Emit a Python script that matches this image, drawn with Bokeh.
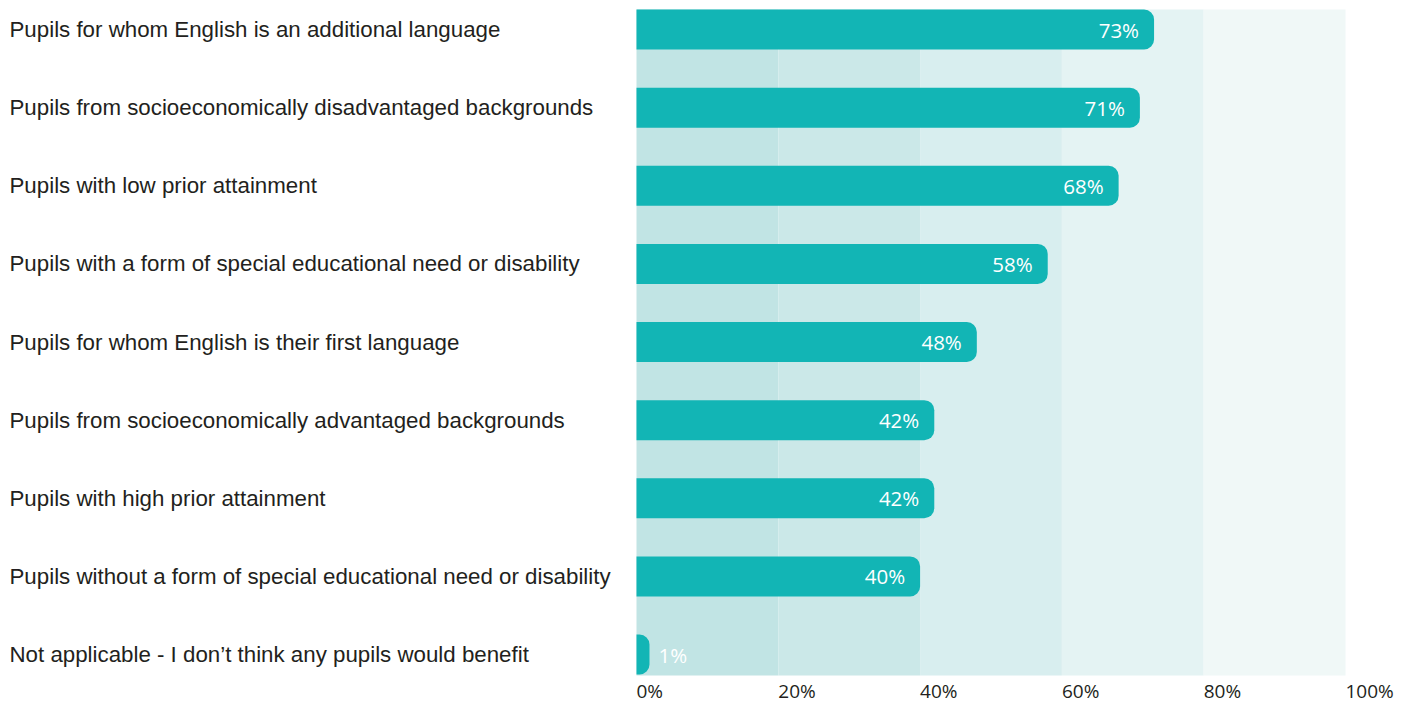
from bokeh.plotting import figure
from bokeh.models import ColumnDataSource, Range1d
from bokeh.embed import file_html
from bokeh.resources import INLINE
from bokeh.core.properties import value
import numpy as np

categories = [
    "Pupils for whom English is an additional language",
    "Pupils from socioeconomically disadvantaged backgrounds",
    "Pupils with low prior attainment",
    "Pupils with a form of special educational need or disability",
    "Pupils for whom English is their first language",
    "Pupils from socioeconomically advantaged backgrounds",
    "Pupils with high prior attainment",
    "Pupils without a form of special educational need or disability",
    "Not applicable - I don\u2019t think any pupils would benefit",
]
values = [73, 71, 68, 58, 48, 42, 42, 40, 1]
tick_values = [0, 20, 40, 60, 80, 100]
tick_labels = ["0%", "20%", "40%", "60%", "80%", "100%"]
band_colors = ["#c1e4e4", "#cbe8e8", "#d8eeef", "#e4f3f3", "#f0f8f7"]

BAR_COLOR = "#12b5b5"
W, H = 1414, 704
PX_PER_PCT = 7.09
X0 = 636
ROW = 78.125
ROW0 = 29

x_start = -X0 / PX_PER_PCT
x_end = (W - X0) / PX_PER_PCT
y_end = -ROW0 / ROW
y_start = (H - ROW0) / ROW
band_top = (9 - ROW0) / ROW
band_bottom = (675 - ROW0) / ROW

p = figure(width=W, height=H, x_range=Range1d(x_start, x_end),
           y_range=Range1d(y_start, y_end), output_backend="svg",
           toolbar_location=None, min_border=0,
           x_axis_location=None, y_axis_location=None)
p.grid.visible = False
p.outline_line_color = None
p.background_fill_color = "white"

# background bands
p.quad(left=tick_values[:-1], right=tick_values[1:], top=band_top, bottom=band_bottom,
       fill_color=band_colors, line_color=None)

idx = list(range(len(categories)))
min_w = 13 / PX_PER_PCT
bar_right = np.maximum(np.array(values, dtype=float), min_w)
src = ColumnDataSource(dict(y=idx, right=bar_right, v=values,
                            lab=[f"{v}%" for v in values], cat=categories))
p.hbar(y="y", left=0, right="right", height=40 / ROW, source=src,
       fill_color=BAR_COLOR, line_color=None, border_radius=(0, 10, 10, 0))

inside = [i for i, v in enumerate(values) if v >= 10]
outside = [i for i, v in enumerate(values) if v < 10]
src_in = ColumnDataSource(dict(y=[idx[i] for i in inside], x=[values[i] for i in inside],
                               lab=[f"{values[i]}%" for i in inside]))
src_out = ColumnDataSource(dict(y=[idx[i] for i in outside], x=[values[i] for i in outside],
                                lab=[f"{values[i]}%" for i in outside]))
p.text(x="x", y="y", text="lab", source=src_in, x_offset=-15, text_align="right",
       text_baseline="middle", text_color="white", text_font=value("Open Sans"),
       text_font_size="20.5px")
p.text(x="x", y="y", text="lab", source=src_out, x_offset=15, text_align="left",
       text_baseline="middle", text_color="white", text_font=value("Open Sans"),
       text_font_size="20.5px")

# category labels
p.text(x=x_start, y="y", text="cat", source=src, x_offset=9, text_align="left",
       text_baseline="middle", text_color="#231f20", text_font=value("Liberation Sans"),
       text_font_size="22.3px")

# x tick labels
tsrc = ColumnDataSource(dict(x=tick_values, lab=tick_labels))
p.text(x="x", y=band_bottom, text="lab", source=tsrc, y_offset=28, text_align="left",
       text_baseline="bottom", text_color="#231f20", text_font=value("Open Sans"),
       text_font_size="19px")

open("out.html", "w").write(file_html(p, INLINE))
